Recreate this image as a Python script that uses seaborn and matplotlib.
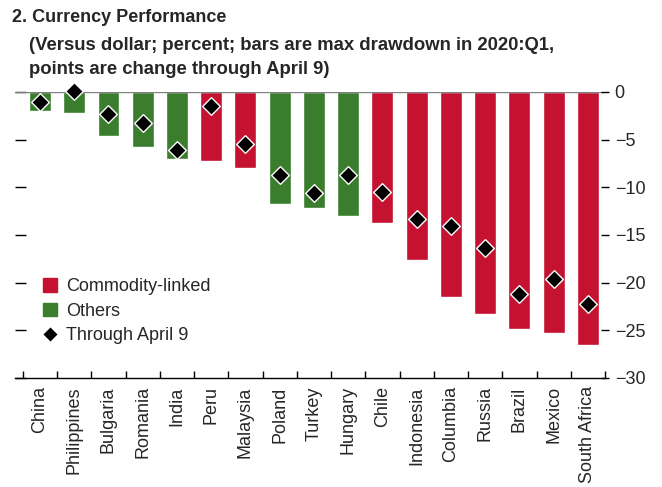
from matplotlib import pyplot as plt
from matplotlib.patches import Patch
from matplotlib.lines import Line2D
import seaborn as sns
import pandas as pd
import numpy as np

countries = ["China", "Philippines", "Bulgaria", "Romania", "India", "Peru",
             "Malaysia", "Poland", "Turkey", "Hungary", "Chile", "Indonesia",
             "Columbia", "Russia", "Brazil", "Mexico", "South Africa"]
group = ["Others", "Others", "Others", "Others", "Others", "Commodity-linked",
         "Commodity-linked", "Others", "Others", "Others", "Commodity-linked",
         "Commodity-linked", "Commodity-linked", "Commodity-linked",
         "Commodity-linked", "Commodity-linked", "Commodity-linked"]
drawdown = [-2.0, -2.2, -4.6, -5.8, -7.0, -7.2, -8.0, -11.7, -12.2, -13.0,
            -13.7, -17.6, -21.5, -23.3, -24.9, -25.3, -26.5]
april9 = [-1.0, 0.1, -2.3, -3.3, -6.1, -1.5, -5.5, -8.7, -10.6, -8.7,
          -10.5, -13.3, -14.1, -16.4, -21.2, -19.6, -22.2]

RED = "#C41230"
GREEN = "#3A7D2C"

df = pd.DataFrame({"country": countries, "group": group,
                   "drawdown": drawdown, "april9": april9})

sns.set_style("white")
plt.rcParams["font.family"] = ["Liberation Sans", "DejaVu Sans"]

fig = plt.figure(figsize=(6.62, 4.87), dpi=100)
ax = fig.add_axes([15 / 662, 1 - 378 / 487, 590 / 662, 286 / 487])

sns.barplot(data=df, x="country", y="drawdown", hue="group", order=countries,
            palette={"Commodity-linked": RED, "Others": GREEN}, dodge=False,
            width=0.64, saturation=1, legend=False, ax=ax)
sns.stripplot(data=df, x="country", y="april9", order=countries, jitter=False,
              marker="D", color="black", edgecolor="white", linewidth=1,
              size=9, ax=ax, zorder=5, clip_on=False)

ax.axhline(0, color="#808080", lw=1, zorder=1)
ax.set_xlim(-0.73, 16.5)
ax.set_ylim(-30, 0)
ax.set_xlabel("")
ax.set_ylabel("")

for s in ["top", "left", "right"]:
    ax.spines[s].set_visible(False)
ax.spines["bottom"].set_color("black")
ax.spines["bottom"].set_linewidth(1)

ax.set_yticks(np.arange(-30, 1, 5))
ax.tick_params(axis="y", left=True, right=False, labelleft=False,
               direction="in", length=8, width=1, color="black")
ax.set_xticks(np.arange(len(countries)))
ax.set_xticklabels(countries, rotation=90, fontsize=13)
ax.set_xticks(np.arange(-0.5, len(countries)), minor=True)
ax.tick_params(axis="x", which="major", length=0, pad=6)
ax.tick_params(axis="x", which="minor", direction="in", length=5, width=1,
               color="black", bottom=True)

ax2 = ax.twinx()
ax2.set_ylim(-30, 0)
ax2.set_yticks(np.arange(-30, 1, 5))
ax2.tick_params(axis="y", direction="inout", length=6, width=1, color="black",
                labelsize=13, pad=4)
for s in ax2.spines.values():
    s.set_visible(False)

handles = [Patch(color=RED, label="Commodity-linked"),
           Patch(color=GREEN, label="Others"),
           Line2D([], [], marker="D", color="black", ls="", markersize=8,
                  markeredgecolor="white", label="Through April 9")]
ax.legend(handles=handles, loc="upper left", bbox_to_anchor=(0.035, 0.374),
          frameon=False, fontsize=13, handlelength=0.8, handleheight=0.8,
          handletextpad=0.5, labelspacing=0.4, borderaxespad=0)

fig.text(12 / 662, 1 - 18 / 487, "2. Currency Performance", fontsize=13,
         fontweight="bold", va="center", ha="left")
fig.text(29 / 662, 1 - 45 / 487,
         "(Versus dollar; percent; bars are max drawdown in 2020:Q1,",
         fontsize=13.3, fontweight="bold", va="center", ha="left")
fig.text(29 / 662, 1 - 69 / 487, "points are change through April 9)",
         fontsize=13.3, fontweight="bold", va="center", ha="left")

fig.savefig("out.png", dpi=100)
